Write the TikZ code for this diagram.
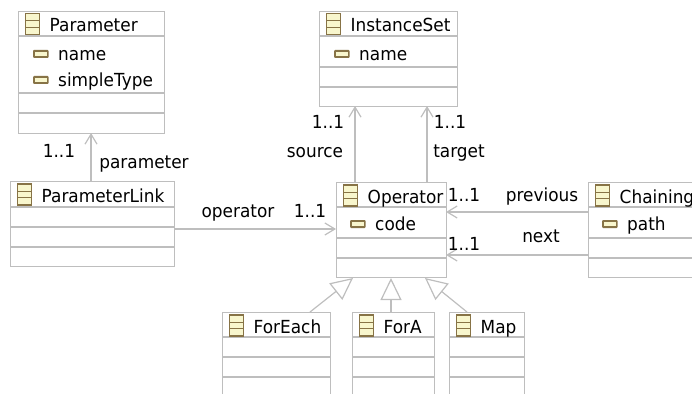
\documentclass[tikz,border=0pt]{standalone}
\usepackage{fontspec}
\setmainfont{DejaVu Sans}[FakeStretch=0.94]
\usetikzlibrary{arrows.meta}
\definecolor{ln}{RGB}{190,190,190}
\definecolor{ic}{RGB}{135,115,70}
\definecolor{icf}{RGB}{248,246,205}
\tikzset{x=1pt,y=-1pt,
 boxln/.style={draw=ln,line width=1.2pt},
 title/.style={anchor=base west,inner sep=0pt,font=\fontsize{18}{20}\selectfont},
 txt/.style={anchor=base,inner sep=0pt,font=\fontsize{18}{20}\selectfont},
 assoc/.style={draw=ln,line width=1.2pt,-{Straight Barb[length=10pt,width=12pt,line width=1.2pt]}},
 gen/.style={draw=ln,line width=1.2pt,-{Triangle[open,fill=white,length=22pt,width=21pt,line width=1.2pt]}},
}
\newcommand{\umlbox}[7]{% name x1 y1 x2 y2 dividers title
 \node[boxln,fill=white,inner sep=0pt,minimum width={#4-#2 pt},minimum height={#5-#3 pt},anchor=north west] (#1) at (#2,#3) {};
 \foreach \d in {#6}{\draw[boxln] (#2,\d) -- (#4,\d);}
 \fill[ic] (#2+6.5,#3+2) rectangle (#2+22,#3+24.5);
 \fill[icf] (#2+8,#3+3.5) rectangle (#2+20.5,#3+9.5);
 \fill[icf] (#2+8,#3+10.5) rectangle (#2+20.5,#3+16);
 \fill[icf] (#2+8,#3+17) rectangle (#2+20.5,#3+23);
 \node[title] (#1t) at (#2+31.5,#3+21) {#7};
}
\newcommand{\umlattr}[4]{% name x y text
 \fill[ic,rounded corners=1pt] (#2,#3-4) rectangle (#2+15.5,#3+4);
 \fill[icf] (#2+1.5,#3-2.2) rectangle (#2+14,#3+2.2);
 \node[title] (#1) at (#2+25,#3+6.5) {#4};
}
\begin{document}
\begin{tikzpicture}
\useasboundingbox (0,0) rectangle (692,393);
\begin{scope}
\clip (0,0) rectangle (692,393);
\umlbox{param}{18}{11}{164}{133}{36,93,113}{Parameter}
\umlattr{pn}{33}{54}{name}
\umlattr{pt}{33}{80}{simpleType}
\umlbox{inst}{319}{11}{457}{106}{36,67,87}{InstanceSet}
\umlattr{in}{334}{54}{name}
\umlbox{link}{10}{181}{174}{266}{207,227,247}{ParameterLink}
\umlbox{op}{336}{182}{446}{277}{207,238,258}{Operator}
\umlattr{oc}{350}{224}{code}
\umlbox{chain}{588}{182}{720}{277}{207,238,258}{Chaining}
\umlattr{cp}{602}{224}{path}
\umlbox{fe}{222}{312}{330}{410}{337,357,377}{ForEach}
\umlbox{fa}{352}{312}{434}{410}{337,357,377}{ForA}
\umlbox{mp}{449}{312}{524}{410}{337,357,377}{Map}
\end{scope}
\coordinate (a1s) at (91,181); \coordinate (a1e) at (91,133);
\draw[assoc] (a1s) -- (a1e);
\coordinate (a2s) at (355,182); \coordinate (a2e) at (355,106);
\draw[assoc] (a2s) -- (a2e);
\coordinate (a3s) at (427,182); \coordinate (a3e) at (427,106);
\draw[assoc] (a3s) -- (a3e);
\coordinate (a4s) at (174,229); \coordinate (a4e) at (336,229);
\draw[assoc] (a4s) -- (a4e);
\coordinate (a5s) at (588,212); \coordinate (a5e) at (446,212);
\draw[assoc] (a5s) -- (a5e);
\coordinate (a6s) at (588,255); \coordinate (a6e) at (446,255);
\draw[assoc] (a6s) -- (a6e);
\coordinate (g1s) at (310,312); \coordinate (g1e) at (353,278);
\draw[gen] (g1s) -- (g1e);
\coordinate (g2s) at (391,312); \coordinate (g2e) at (391,278);
\draw[gen] (g2s) -- (g2e);
\coordinate (g3s) at (467,312); \coordinate (g3e) at (425,278);
\draw[gen] (g3s) -- (g3e);
\node[txt] (l1) at (59,157) {1..1};
\node[txt] (l2) at (144,168) {parameter};
\node[txt] (l3) at (328,128) {1..1};
\node[txt] (l4) at (315,157) {source};
\node[txt] (l5) at (450,128) {1..1};
\node[txt] (l6) at (459,157) {target};
\node[txt] (l7) at (238,217) {operator};
\node[txt] (l8) at (310,217) {1..1};
\node[txt] (l9) at (464,201) {1..1};
\node[txt] (l10) at (542,201) {previous};
\node[txt] (l11) at (541,242) {next};
\node[txt] (l12) at (464,250) {1..1};
\end{tikzpicture}
\end{document}
